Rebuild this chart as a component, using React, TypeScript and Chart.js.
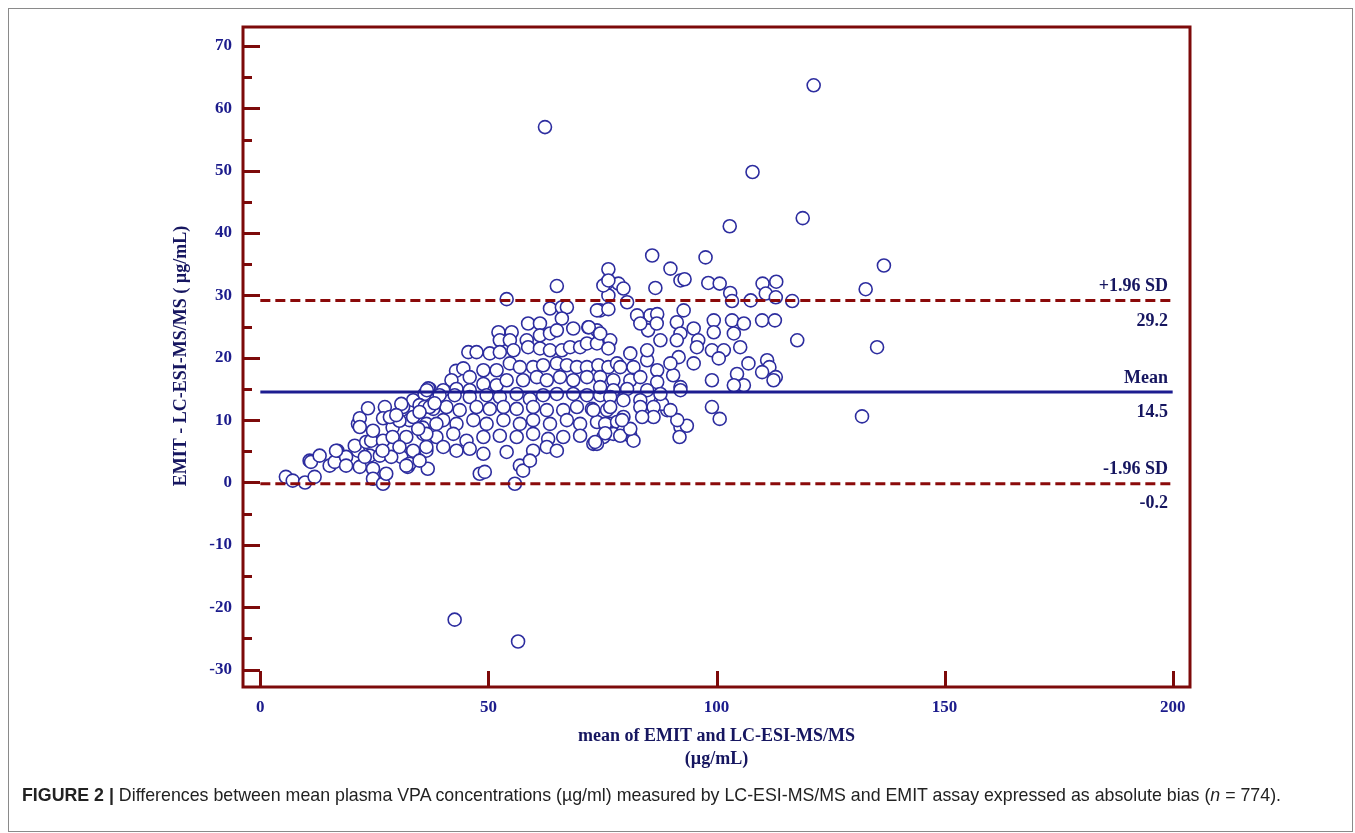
import React, { useEffect, useRef } from "react";
import { Chart, registerables } from "chart.js";

Chart.register(...registerables);

// ---------- data ----------
const X_TICKS = [0, 50, 100, 150, 200];
const Y_TICKS = [-30, -20, -10, 0, 10, 20, 30, 40, 50, 60, 70];
const Y_MINOR_TICKS = [-25, -15, -5, 5, 15, 25, 35, 45, 55, 65];
const MEAN_BIAS = 14.5;
const UPPER_LOA = 29.2;
const LOWER_LOA = -0.2;
const LINE_RANGE = [0, 200];

const outliers: [number, number][] = [
  [121.3, 63.7], [62.4, 57.0], [107.9, 49.8], [118.9, 42.4], [102.9, 41.1],
  [136.7, 34.8], [132.7, 31.0], [135.2, 21.7], [131.9, 10.6], [42.6, -22.0],
  [56.5, -25.5],
];

const lowRange: [number, number][] = [
  [5.6, 0.9], [7.1, 0.3], [9.8, 0.0], [11.9, 0.9], [10.8, 3.5], [11.1, 3.3],
  [13.0, 4.3], [15.2, 2.7], [16.3, 3.3], [16.9, 5.1], [18.8, 4.1], [21.4, 5.1],
  [21.8, 2.5], [20.7, 5.9], [23.2, 6.5], [24.7, 2.2], [24.7, 0.6], [26.9, -0.2],
  [27.6, 1.4], [24.0, 4.3], [26.2, 4.3], [21.4, 9.4], [21.8, 10.3], [23.6, 11.9],
  [27.3, 12.1], [26.9, 10.3], [29.0, 8.8], [30.9, 12.6], [30.5, 9.9], [30.9, 4.1],
  [28.7, 4.1], [32.3, 2.5], [33.5, 10.5], [36.0, 12.1], [36.8, 15.1], [35.6, 8.8],
  [36.4, 5.7], [16.6, 5.1], [18.8, 2.7], [22.9, 4.1], [24.3, 6.7], [26.9, 6.7],
  [29.0, 7.3], [26.8, 5.1], [30.5, 5.7], [32.7, 3.0], [33.5, 5.1], [36.4, 7.8],
  [38.6, 9.4], [37.1, 12.1], [38.2, 12.7], [28.4, 10.5], [29.8, 10.8], [34.9, 11.3],
  [34.6, 8.6], [24.7, 8.3], [21.8, 8.9], [36.5, 14.8], [36.7, 2.2], [32.0, 2.7],
  [34.9, 3.5],
];

const midRange: [number, number][] = [
  [65.0, 31.5], [54.0, 29.4], [76.3, 30.0], [74.5, 27.6], [63.5, 27.9], [66.1, 28.1],
  [67.2, 28.1], [66.1, 26.3], [58.7, 25.5], [61.3, 25.5], [52.2, 24.1], [55.1, 24.1],
  [52.5, 22.8], [54.7, 22.8], [58.4, 22.8], [61.3, 23.6], [63.5, 23.9], [65.0, 24.4],
  [68.6, 24.7], [71.9, 24.9], [73.8, 24.4], [74.5, 23.3], [76.7, 22.8],
  [45.6, 20.9], [47.4, 20.9], [50.3, 20.7], [52.5, 20.9], [55.5, 21.2], [58.7, 21.7],
  [61.3, 21.5], [63.5, 21.2], [66.1, 21.2], [67.9, 21.7], [70.1, 21.7], [71.6, 22.3],
  [73.8, 22.3], [76.3, 21.5], [42.9, 17.9],
  [44.5, 18.3], [45.9, 16.9], [48.9, 18.0], [51.8, 18.0], [54.7, 19.1], [56.9, 18.5],
  [59.8, 18.5], [62.0, 18.8], [65.0, 19.1], [67.2, 18.8], [69.4, 18.5], [71.6, 18.5],
  [74.1, 18.8], [76.3, 18.5], [78.2, 19.1],
  [41.9, 16.4], [37.1, 15.0], [40.1, 14.8], [43.0, 15.0], [45.9, 14.8], [48.9, 15.8],
  [51.8, 15.6], [54.0, 16.4], [57.6, 16.4], [60.6, 16.9], [62.8, 16.4], [65.7, 16.9],
  [68.6, 16.4], [71.6, 16.9], [74.5, 16.9], [77.4, 16.4],
  [33.5, 13.2], [36.0, 14.2], [39.3, 14.0], [42.6, 14.0], [45.9, 13.7], [49.6, 14.0],
  [52.5, 13.7], [56.2, 14.2], [59.1, 13.4], [62.0, 14.0], [65.0, 14.2], [68.6, 14.2],
  [71.6, 14.0], [74.5, 14.0], [77.4, 14.2],
  [31.3, 12.1], [34.9, 12.4], [37.9, 11.8], [40.8, 12.1], [43.7, 11.6], [47.4, 12.1],
  [50.3, 11.8], [53.3, 12.1], [56.2, 11.8], [59.8, 12.1], [62.8, 11.6], [66.4, 11.6],
  [69.4, 12.1], [72.7, 11.8], [76.0, 11.6],
  [32.7, 10.0], [36.4, 9.4], [40.1, 10.0], [43.0, 9.4], [46.7, 10.0], [49.6, 9.4],
  [53.3, 10.0], [56.9, 9.4], [59.8, 10.0], [63.5, 9.4], [67.2, 10.0], [70.1, 9.4],
  [73.8, 9.7], [76.7, 9.4],
  [32.0, 7.3], [35.7, 7.8], [38.6, 7.3], [42.3, 7.8], [45.2, 6.7], [48.9, 7.3],
  [52.5, 7.5], [56.2, 7.3], [59.8, 7.8], [63.1, 7.0], [66.4, 7.3], [70.1, 7.5],
  [73.0, 6.2], [76.0, 7.8],
  [32.7, 4.6], [36.4, 5.1], [40.1, 5.7], [43.0, 5.1], [45.9, 5.4], [48.9, 4.6],
  [54.0, 4.9], [59.8, 5.1], [62.8, 5.7], [65.0, 5.1],
  [48.1, 1.4], [49.2, 1.7], [56.9, 2.7], [57.6, 1.9], [55.8, -0.2], [59.1, 3.5],
  [76.3, 34.2], [76.0, 32.0], [78.5, 31.9], [79.6, 31.1], [80.4, 28.9], [73.8, 27.6],
  [76.3, 27.8], [82.6, 26.8], [83.3, 25.5], [81.1, 20.7], [75.2, 31.6], [76.3, 32.4],
  [72.0, 24.9], [74.5, 23.9], [84.8, 21.2], [78.9, 18.5], [81.8, 18.5], [81.1, 16.4],
  [83.3, 16.9], [74.5, 15.3], [77.4, 14.8], [80.4, 15.0], [76.7, 13.7], [79.6, 13.2],
  [83.3, 13.2], [73.0, 11.6], [76.7, 12.1], [79.6, 10.5], [83.3, 12.1], [75.6, 9.4],
  [78.2, 9.7], [75.2, 7.3], [77.4, 7.8], [81.1, 7.5], [73.8, 6.2], [81.8, 6.7],
  [79.6, 8.3], [75.6, 7.9], [73.4, 6.5], [83.7, 10.5], [78.9, 7.5], [81.1, 8.6],
  [79.3, 10.0],
];

const highRange: [number, number][] = [
  [85.9, 36.4], [97.6, 36.1], [89.9, 34.3], [92.1, 32.4], [93.0, 32.6], [98.2, 32.0],
  [100.7, 31.9], [110.1, 31.9], [113.1, 32.2], [86.6, 31.2], [103.0, 30.4], [103.4, 29.1],
  [107.5, 29.2], [110.8, 30.3], [113.0, 29.7], [116.6, 29.1], [92.8, 27.6], [85.5, 26.8],
  [87.0, 27.0], [99.4, 26.0], [103.4, 26.0], [106.0, 25.5], [110.0, 26.0], [112.8, 26.0],
  [117.7, 22.8], [91.3, 25.7], [92.1, 23.9], [85.0, 24.4], [95.0, 24.7], [96.0, 22.8],
  [99.4, 24.1], [103.8, 23.9], [105.2, 21.7], [99.0, 21.2], [101.6, 21.2], [100.5, 19.9],
  [107.0, 19.1], [111.1, 19.6], [111.6, 18.5], [113.0, 16.9], [110.0, 17.7], [104.5, 17.4],
  [106.0, 15.6], [103.8, 15.6], [99.0, 16.4], [99.0, 12.1], [100.7, 10.2], [95.7, 21.7],
  [95.0, 19.1], [91.3, 22.8], [91.7, 20.1], [90.5, 17.2], [92.1, 15.3], [92.1, 8.9],
  [93.5, 9.1], [91.9, 7.3], [87.7, 12.9], [89.2, 11.6], [85.5, 11.1], [112.5, 16.4],
  [92.1, 14.8], [88.1, 12.6], [91.4, 10.0], [86.9, 25.5], [87.7, 22.8], [89.9, 19.1],
  [87.0, 18.0], [84.8, 19.6], [87.0, 16.1], [87.7, 14.2], [84.8, 14.8], [86.2, 12.1],
  [89.9, 11.6], [86.2, 10.5],
];

// ---------- styling ----------
const W = 1355;
const H = 833;
const AREA = { left: 243, top: 27, right: 1190, bottom: 687 };
const FRAME = "#7d0a0a";
const DASH_RED = "#8b0a0a";
const NAVY = "#1c1c8c";
const DARK_NAVY = "#161660";
const POINT_BLUE = "#2d2d9f";
const SERIF = "'Liberation Serif', 'Times New Roman', serif";

const toXY = (arr: [number, number][]) => arr.map(([x, y]) => ({ x, y }));
const hLine = (y: number) => LINE_RANGE.map((x) => ({ x, y }));

const decorPlugin = {
  id: "decor",
  afterDraw(chart: any) {
    const { ctx, chartArea, scales } = chart;
    const xs = scales.x;
    const ys = scales.y;
    ctx.save();
    // frame
    ctx.strokeStyle = FRAME;
    ctx.lineWidth = 3;
    ctx.strokeRect(chartArea.left, chartArea.top, chartArea.right - chartArea.left, chartArea.bottom - chartArea.top);
    // y ticks (inward)
    ctx.lineWidth = 3;
    Y_TICKS.forEach((v) => {
      const py = Math.round(ys.getPixelForValue(v)) + 0.5;
      ctx.beginPath();
      ctx.moveTo(chartArea.left, py);
      ctx.lineTo(chartArea.left + 17, py);
      ctx.stroke();
    });
    Y_MINOR_TICKS.forEach((v) => {
      const py = Math.round(ys.getPixelForValue(v)) + 0.5;
      ctx.beginPath();
      ctx.moveTo(chartArea.left, py);
      ctx.lineTo(chartArea.left + 9, py);
      ctx.stroke();
    });
    X_TICKS.forEach((v) => {
      const px = Math.round(xs.getPixelForValue(v)) + 0.5;
      ctx.beginPath();
      ctx.moveTo(px, chartArea.bottom);
      ctx.lineTo(px, chartArea.bottom - 16);
      ctx.stroke();
    });
    // line labels
    const lx = chartArea.right - 22;
    ctx.fillStyle = DARK_NAVY;
    ctx.font = `bold 18px ${SERIF}`;
    ctx.textAlign = "right";
    ctx.textBaseline = "middle";
    const lab = (txt: string, val: number, dy: number) => {
      ctx.fillText(txt, lx, ys.getPixelForValue(val) + dy);
    };
    lab("+1.96 SD", UPPER_LOA, -14);
    lab(UPPER_LOA.toFixed(1), UPPER_LOA, 21);
    lab("Mean", MEAN_BIAS, -14);
    lab(MEAN_BIAS.toFixed(1), MEAN_BIAS, 20);
    lab("-1.96 SD", LOWER_LOA, -14);
    lab(LOWER_LOA.toFixed(1), LOWER_LOA, 20);
    // axis titles
    ctx.fillStyle = DARK_NAVY;
    ctx.textAlign = "center";
    ctx.font = `bold 18px ${SERIF}`;
    const cx = (chartArea.left + chartArea.right) / 2;
    ctx.fillText("mean of EMIT and LC-ESI-MS/MS", cx, 736);
    ctx.fillText("(µg/mL)", cx, 759);
    ctx.translate(181, 356);
    ctx.rotate(-Math.PI / 2);
    ctx.fillText("EMIT - LC-ESI-MS/MS ( µg/mL)", 0, 0);
    ctx.restore();
  },
};

export default function App() {
  const ref = useRef<HTMLCanvasElement | null>(null);

  useEffect(() => {
    if (!ref.current) return;
    const pointStyle = {
      type: "scatter" as const,
      pointRadius: 6.5,
      pointBorderWidth: 1.6,
      pointBorderColor: POINT_BLUE,
      pointBackgroundColor: "#ffffff",
      pointHoverRadius: 6.5,
      showLine: false,
      order: 2,
    };
    const chart = new Chart(ref.current, {
      type: "scatter",
      data: {
        datasets: [
          { label: "low", data: toXY(lowRange), ...pointStyle },
          { label: "mid", data: toXY(midRange), ...pointStyle },
          { label: "high", data: toXY(highRange), ...pointStyle },
          { label: "outliers", data: toXY(outliers), ...pointStyle },
          {
            label: "Mean", data: hLine(MEAN_BIAS), showLine: true, pointRadius: 0,
            borderColor: "#1c1c90", borderWidth: 3, order: 1,
          },
          {
            label: "+1.96 SD", data: hLine(UPPER_LOA), showLine: true, pointRadius: 0,
            borderColor: DASH_RED, borderWidth: 3, borderDash: [10, 5], order: 1,
          },
          {
            label: "-1.96 SD", data: hLine(LOWER_LOA), showLine: true, pointRadius: 0,
            borderColor: DASH_RED, borderWidth: 3, borderDash: [10, 5], order: 1,
          },
        ] as any,
      },
      options: {
        responsive: false,
        animation: false,
        devicePixelRatio: 1,
        events: [],
        layout: {
          padding: { left: 0, top: AREA.top, right: W - AREA.right, bottom: H - AREA.bottom - 40 },
        },
        plugins: { legend: { display: false }, tooltip: { enabled: false } },
        scales: {
          x: {
            type: "linear",
            min: -3.8,
            max: 203.8,
            grid: { display: false, drawTicks: false },
            border: { display: false },
            afterBuildTicks: (s: any) => { s.ticks = X_TICKS.map((value) => ({ value })); },
            afterFit: (s: any) => { s.height = 40; },
            ticks: {
              font: { family: SERIF, size: 17, weight: "bold" },
              color: NAVY, padding: 10, maxRotation: 0, autoSkip: false,
            },
          },
          y: {
            type: "linear",
            min: -32.8,
            max: 73.05,
            grid: { display: false, drawTicks: false },
            border: { display: false },
            afterBuildTicks: (s: any) => { s.ticks = Y_TICKS.map((value) => ({ value })); },
            afterFit: (s: any) => { s.width = AREA.left; },
            ticks: {
              font: { family: SERIF, size: 17, weight: "bold" },
              color: NAVY, padding: 11, autoSkip: false,
            },
          },
        },
      } as any,
      plugins: [decorPlugin],
    });
    return () => chart.destroy();
  }, []);

  return (
    <div>
      <div
        style={{
          position: "absolute", left: 8, top: 8, width: 1345, height: 824,
          boxSizing: "border-box", border: "1px solid #8a8a8a",
        }}
      />
      <canvas
        ref={ref}
        width={W}
        height={H}
        style={{ position: "absolute", left: 0, top: 0, width: W, height: H }}
      />
      <div
        style={{
          position: "absolute", left: 22, top: 785, whiteSpace: "nowrap",
          fontFamily: "'Liberation Sans', Arial, sans-serif", fontSize: 17.8, lineHeight: "20px",
          color: "#222",
        }}
      >
        <b>FIGURE 2 |</b> Differences between mean plasma VPA concentrations (µg/ml) measured by LC-ESI-MS/MS and EMIT assay expressed as absolute bias (<i>n</i> = 774).
      </div>
    </div>
  );
}
